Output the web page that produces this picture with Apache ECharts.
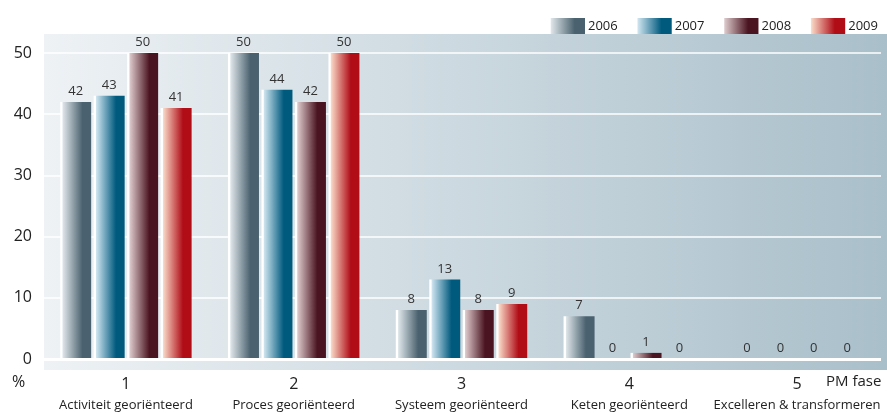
<!DOCTYPE html>
<html>
<head>
<meta charset="utf-8">
<script src="https://cdn.jsdelivr.net/npm/echarts@6/dist/echarts.min.js"></script>
<style>
  html, body { margin: 0; padding: 0; background: #fff; }
  #chart { width: 887px; height: 413px; }
</style>
</head>
<body>
<div id="chart"></div>
<script>
// PM fase per jaar (%)
const phases = ['1', '2', '3', '4', '5']
const phaseNames = ['Activiteit georiënteerd', 'Proces georiënteerd', 'Systeem georiënteerd', 'Keten georiënteerd', 'Excelleren & transformeren']
const years = ['2006', '2007', '2008', '2009']
const v2006 = [42, 50, 8, 7, 0]
const v2007 = [43, 44, 13, 0, 0]
const v2008 = [50, 42, 8, 1, 0]
const v2009 = [41, 50, 9, 0, 0]
const yTicks = [0, 10, 20, 30, 40, 50]

// kleurverloop per jaar: licht -> donker
const gradStops = [
  ['#dde4e8', '#4a626f'],
  ['#cde3ee', '#005a7e'],
  ['#dbc8ca', '#4a1420'],
  ['#f8d8c6', '#b00d17']
]

const chart = echarts.init(document.getElementById('chart'))

function grad(i) {
  return new echarts.graphic.LinearGradient(0, 0, 1, 0, [
    { offset: 0, color: '#ffffff' },
    { offset: 0.06, color: '#ffffff' },
    { offset: 0.09, color: gradStops[i][0] },
    { offset: 0.72, color: gradStops[i][1] },
    { offset: 1, color: gradStops[i][1] }
  ])
}

const allValues = [v2006, v2007, v2008, v2009]

const option = {
  animation: false,
  textStyle: { fontFamily: 'Open Sans' },
  legend: {
    left: 543,
    top: 13,
    width: 344,
    itemWidth: 37,
    itemHeight: 16,
    itemGap: 17,
    icon: 'rect',
    textStyle: { fontSize: 13, color: '#222', padding: [0, 0, 0, -2] },
    data: years
  },
  graphic: [
    {
      type: 'rect',
      z: -10,
      silent: true,
      shape: { x: 44, y: 34, width: 843, height: 336 },
      style: {
        fill: new echarts.graphic.LinearGradient(0, 0, 1, 0, [
          { offset: 0, color: '#eef2f5' },
          { offset: 1, color: '#a9bfca' }
        ])
      }
    },
    {
      type: 'text',
      left: 12,
      top: 374,
      style: { text: '%', fontSize: 16, fill: '#222', fontFamily: 'Open Sans' }
    },
    {
      type: 'text',
      left: 826,
      top: 374,
      style: { text: 'PM fase', fontSize: 15, fill: '#222', fontFamily: 'Open Sans' }
    }
  ],
  grid: {
    left: 42,
    right: 6,
    top: 53,
    bottom: 54
  },
  xAxis: {
    type: 'category',
    data: phases,
    axisLine: { show: false },
    axisTick: { show: false },
    axisLabel: {
      interval: 0,
      margin: 14,
      formatter: (val, idx) => '{n|' + val + '}\n{t|' + phaseNames[idx] + '}',
      rich: {
        n: { fontSize: 16, color: '#222', lineHeight: 22, fontFamily: 'Open Sans' },
        t: { fontSize: 13, color: '#222', lineHeight: 21, fontFamily: 'Open Sans' }
      }
    }
  },
  yAxis: {
    type: 'value',
    min: yTicks[0],
    max: yTicks[yTicks.length - 1],
    interval: 10,
    axisLine: { show: false },
    axisTick: { show: false },
    axisLabel: { fontSize: 16, color: '#222', margin: 10 },
    splitLine: { lineStyle: { color: '#ffffff', width: 1.5 } }
  },
  series: years.map((y, i) => ({
    name: y,
    type: 'bar',
    data: allValues[i],
    barWidth: 31,
    barGap: '8%',
    itemStyle: { color: grad(i) },
    label: {
      show: true,
      position: 'top',
      distance: 4,
      fontSize: 13,
      color: '#333'
    }
  }))
}

chart.setOption(option)

// dikke witte nullijn
chart.setOption({
  series: [{
    markLine: {
      silent: true,
      symbol: 'none',
      label: { show: false },
      lineStyle: { color: '#ffffff', width: 3, type: 'solid' },
      data: [{ yAxis: 0 }]
    }
  }]
})
</script>
</body>
</html>
